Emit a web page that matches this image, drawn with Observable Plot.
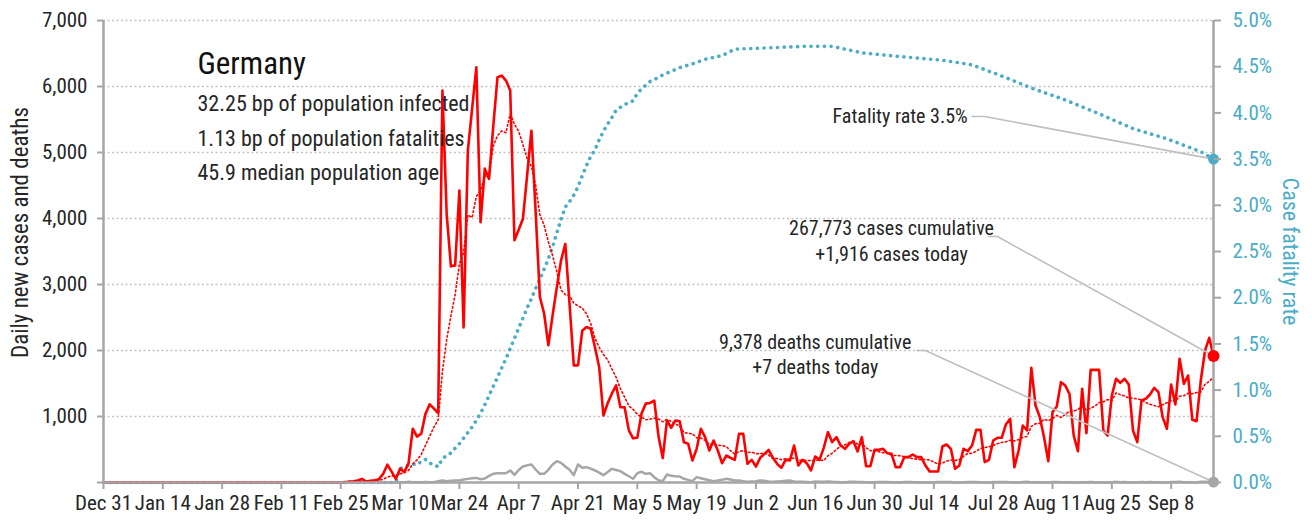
<!DOCTYPE html>
<html><head><meta charset="utf-8">
<script src="https://cdn.jsdelivr.net/npm/d3@7"></script>
<script src="https://cdn.jsdelivr.net/npm/@observablehq/plot@0.6"></script>
<style>
body{margin:0;background:#fff;}
#chart svg{display:block;}
</style></head><body><div id="chart"></div>
<script>
// ---------- data ----------
const startDate = "2019-12-31";          // day index 0
const dailyCases = [
  0,0,0,0,0,0,0,0,0,0, 0,0,0,0,0,0,0,0,0,0, 0,0,0,0,0,0,0,0,
  1,3,0,1,3,1,0,1,0,2,0,0,0,0,2,0,0,0,0,0,0,0,0,0,0,0,0,0,0,
  5,15,20,30,55,15,25,35,50,130,270,165,56,
  210,160,290,815,695,740,1040,1185,1120,1050,
  5940,4070,3275,3290,4425,2350,5030,5660,6290,3945,
  4755,4600,5400,6140,6165,6090,5940,3670,3830,3995,
  4660,5330,4100,2810,2560,2080,2530,2960,3365,3615,
  2710,1775,1775,2300,2355,2330,2050,1747,1015,1200,
  1350,1470,1140,1140,790,670,680,1045,1195,1205,
  1242,700,370,940,830,940,929,611,588,333,
  510,813,687,485,636,485,293,409,374,343,
  737,737,283,343,242,374,434,495,374,283,
  222,343,333,560,258,343,293,182,394,343,
  525,763,611,687,560,510,586,626,470,687,
  247,247,495,495,510,444,434,232,232,384,
  384,424,384,384,258,167,167,167,545,576,
  510,207,258,510,475,560,798,798,308,343,
  636,677,677,880,965,232,485,864,788,1737,
  1166,990,687,323,1066,1152,1520,1470,1343,712,
  475,1419,747,1707,1707,1707,788,712,1318,1571,
  1510,1571,1485,788,611,1242,1268,1333,1434,1369,
  990,813,1485,1182,1874,1495,1621,949,929,1545,2000,2192,1916
];
const dailyDeaths = [
  0,0,0,0,0,0,0,0,0,0, 0,0,0,0,0,0,0,0,0,0, 0,0,0,0,0,0,0,0,0,0,
  0,0,0,0,0,0,0,0,0,0, 0,0,0,0,0,0,0,0,0,0, 0,0,0,0,0,0,0,0,0,0,
  0,0,0,0,0,0,0,0,0,0,
  2,2,10,5,5,5,8,5,3,20,
  30,20,25,30,30,45,55,65,70,50,
  60,100,131,141,141,141,182,116,190,242,
  260,273,197,131,131,192,273,323,298,242,
  192,111,273,222,232,210,182,150,111,160,
  207,190,172,131,95,56,141,162,131,141,
  80,35,20,121,101,95,91,56,40,20,
  81,65,50,35,20,30,40,56,45,30,
  30,20,10,15,20,30,25,15,10,15,
  20,25,30,15,10,12,8,3,15,10,
  12,15,10,8,3,2,10,12,8,6,
  4,1,5,7,8,6,4,3,1,6,
  9,6,5,4,1,0,4,6,9,7,
  6,0,1,4,6,7,7,5,1,1,
  9,8,8,6,3,0,1,7,10,5,
  4,4,0,1,6,6,4,5,3,1,
  1,5,4,6,3,3,1,0,5,10,
  4,7,4,1,0,8,5,9,3,3,
  1,0,6,6,10,5,5,2,1,11,12,8,7
];
const cfrDays = [0,69,70,71,72,73,74,75,76,77,78,79,80,81,82,83,84,85,86,87,88,89,
  90,91,92,93,94,95,96,97,98,99,100,101,102,103,104,105,106,107,108,109,
  110,111,112,113,114,115,116,117,118,119,120,121,122,123,124,125,126,127,128,129,130,
  132,134,136,139,142,146,149,155,165,172,175,179,188,198,205,212,219,227,235,243,251,259,262];
const cfrPercent = [0,0,0.15,0.17,0.19,0.2,0.19,0.23,0.25,0.21,0.19,0.17,0.26,0.29,0.32,0.37,0.42,0.48,0.54,0.6,0.67,0.75,
  0.84,0.94,1.04,1.14,1.24,1.34,1.45,1.56,1.67,1.78,1.89,1.99,2.1,2.2,2.31,2.42,2.55,2.7,2.85,2.98,
  3.04,3.11,3.2,3.32,3.43,3.53,3.6,3.71,3.8,3.88,3.95,4.03,4.06,4.09,4.11,4.13,4.21,4.26,4.3,4.34,4.36,
  4.41,4.45,4.49,4.53,4.58,4.62,4.69,4.70,4.72,4.72,4.69,4.65,4.61,4.57,4.52,4.40,4.27,4.14,3.99,3.83,3.72,3.58,3.50];

const xTickDates = ["2019-12-31","2020-01-14","2020-01-28","2020-02-11","2020-02-25","2020-03-10","2020-03-24",
  "2020-04-07","2020-04-21","2020-05-05","2020-05-19","2020-06-02","2020-06-16","2020-06-30","2020-07-14",
  "2020-07-28","2020-08-11","2020-08-25","2020-09-08"];
const leftTicks = [0,1000,2000,3000,4000,5000,6000,7000];
const rightTicks = [0,0.5,1,1.5,2,2.5,3,3.5,4,4.5,5];

const countryName = "Germany";
const infoLines = ["32.25 bp of population infected","1.13 bp of population fatalities","45.9 median population age"];
const leftTitle = "Daily new cases and deaths";
const rightTitle = "Case fatality rate";
const labelFatality = "Fatality rate 3.5%";
const labelCases = "267,773 cases cumulative\n+1,916 cases today";
const labelDeaths = "9,378 deaths cumulative\n+7 deaths today";

// ---------- layout (annotation anchors in data units) ----------
const Y_MAX = 7000, CFR_MAX = 5;
const toY = p => p * Y_MAX / CFR_MAX;
const annotFatality = {date: "2020-07-22", value: 5545};
const annotCases = {date: "2020-07-04", value: 3682};
const annotDeaths = {date: "2020-06-16", value: 1962};
const leaderStarts = [
  [{date:"2020-07-23", value:5545},{date:"2020-07-26", value:5545}],
  [{date:"2020-07-27", value:3727},{date:"2020-07-29", value:3727}],
  [{date:"2020-07-10", value:2000},{date:"2020-07-12", value:2000}]
];

// ---------- build ----------
const dayDate = i => new Date(Date.UTC(2019, 11, 31 + i));
const cases = dailyCases.map((v, i) => ({date: dayDate(i), v}));
const deaths = dailyDeaths.map((v, i) => ({date: dayDate(i), v}));
const cfr = cfrDays.map((d, i) => ({date: dayDate(d), v: toY(cfrPercent[i])}));
const lastCase = cases[cases.length - 1], lastDeath = deaths[deaths.length - 1], lastCfr = cfr[cfr.length - 1];
const endDate = lastCase.date;
const targets = [lastCfr, lastCase, lastDeath];
const leaders = leaderStarts.flatMap((pts, k) =>
  [...pts.map(p => ({id: k, date: new Date(p.date), v: p.value})), {id: k, date: targets[k].date, v: targets[k].v}]);
const ann = a => [{date: new Date(a.date), v: a.value}];

const FONT = "'Liberation Sans Narrow','Arial Narrow','Roboto Condensed','DejaVu Sans',sans-serif";
const BLUE = "#4bacc6", AXIS = "#a6a6a6", TXT = "#262626";
const fmtLeft = d3.format(",");

const chart = Plot.plot({
  width: 1312, height: 523,
  marginLeft: 103, marginRight: 99, marginTop: 20, marginBottom: 41,
  style: `font-family:${FONT};font-stretch:condensed;font-size:21px;color:${TXT};background:#fff;`,
  x: {type: "utc", domain: [new Date(startDate), endDate]},
  y: {domain: [0, Y_MAX]},
  marks: [
    Plot.gridY(leftTicks.slice(1), {stroke: "#c4c4c4", strokeOpacity: 1, strokeWidth: 1.3, strokeDasharray: "2,2.5"}),
    Plot.line(deaths, {x: "date", y: "v", stroke: "#a6a6a6", strokeWidth: 2.5}),
    Plot.line(cfr, {x: "date", y: "v", stroke: BLUE, strokeWidth: 3.6, strokeLinecap: "round", strokeDasharray: "0.1,6.6"}),
    Plot.line(cases, Plot.windowY({k: 7, anchor: "end", reduce: "mean"}, {x: "date", y: "v", stroke: "#ff0000", strokeWidth: 1.6, strokeDasharray: "1.6,2.6"})),
    Plot.line(cases, {x: "date", y: "v", stroke: "#ff0000", strokeWidth: 2.6, strokeLinejoin: "round"}),
    Plot.line(leaders, {x: "date", y: "v", z: "id", stroke: "#bfbfbf", strokeWidth: 1.6}),
    Plot.ruleY([0], {stroke: AXIS, strokeWidth: 2.5}),
    Plot.ruleX([new Date(startDate), endDate], {stroke: AXIS, strokeWidth: 2.5}),
    Plot.dot([lastCfr], {x: "date", y: "v", r: 5.5, fill: BLUE}),
    Plot.dot([lastDeath], {x: "date", y: "v", r: 5.5, fill: "#a6a6a6"}),
    Plot.dot([lastCase], {x: "date", y: "v", r: 6, fill: "#ff0000"}),
    Plot.axisY(leftTicks, {anchor: "left", label: null, tickFormat: d => d === 0 ? "" : fmtLeft(d), tickSize: 6, tickPadding: 10, fontSize: 21, fill: TXT, stroke: AXIS, strokeWidth: 2}),
    Plot.axisY(rightTicks.map(toY), {anchor: "right", label: null, tickFormat: v => (v * CFR_MAX / Y_MAX).toFixed(1) + "%", tickSize: 7, tickPadding: 12, fontSize: 21, fill: BLUE, stroke: AXIS, strokeWidth: 2}),
    Plot.axisX(xTickDates.map(s => new Date(s)), {label: null, tickFormat: d3.utcFormat("%b %-d"), tickSize: 7, tickPadding: 6, fontSize: 21, fill: TXT, stroke: AXIS, strokeWidth: 2}),
    Plot.text([leftTitle], {frameAnchor: "left", textAnchor: "middle", rotate: -90, dx: -83, dy: -19, fontSize: 23, fill: TXT}),
    Plot.text([rightTitle], {frameAnchor: "right", textAnchor: "middle", rotate: 90, dx: 77, dy: 0, fontSize: 22, fill: BLUE}),
    Plot.text([countryName], {frameAnchor: "top-left", textAnchor: "start", lineAnchor: "top", dx: 94, dy: 31, fontSize: 31, fill: "#111"}),
    Plot.text([infoLines.join("\n")], {frameAnchor: "top-left", textAnchor: "start", lineAnchor: "top", dx: 94, dy: 66, fontSize: 22, lineHeight: 1.57, fill: TXT}),
    Plot.text(ann(annotFatality), {x: "date", y: "v", text: () => labelFatality, textAnchor: "end", lineAnchor: "middle", fontSize: 20, fill: TXT}),
    Plot.text(ann(annotCases), {x: "date", y: "v", text: () => labelCases, textAnchor: "middle", lineAnchor: "middle", lineHeight: 1.3, fontSize: 20, fill: TXT}),
    Plot.text(ann(annotDeaths), {x: "date", y: "v", text: () => labelDeaths, textAnchor: "middle", lineAnchor: "middle", lineHeight: 1.25, fontSize: 20, fill: TXT})
  ]
});
document.getElementById("chart").appendChild(chart);
</script></body></html>
